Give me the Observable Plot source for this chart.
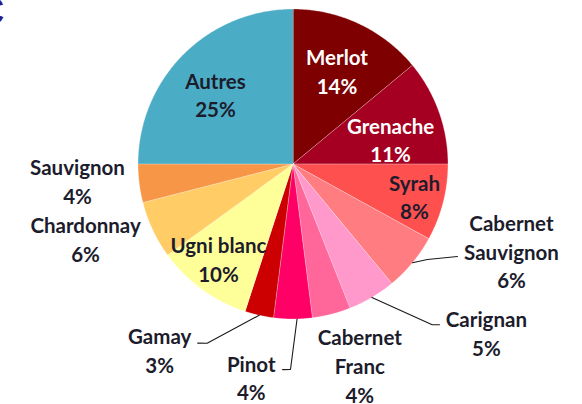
<!DOCTYPE html>
<html><head><meta charset="utf-8">
<script src="https://cdn.jsdelivr.net/npm/d3@7"></script>
<script src="https://cdn.jsdelivr.net/npm/@observablehq/plot@0.6"></script>
<style>html,body{margin:0;padding:0;background:#fff;overflow:hidden}</style>
</head><body><div id="chart"></div>
<script>
// ---- data ----
const cepages = ["Merlot","Grenache","Syrah","Cabernet Sauvignon","Carignan","Cabernet Franc","Pinot","Gamay","Ugni blanc","Chardonnay","Sauvignon","Autres"];
const parts = [14,11,8,6,5,4,4,3,10,6,4,25];
const labelLines = [["Merlot"],["Grenache"],["Syrah"],["Cabernet","Sauvignon"],["Carignan"],["Cabernet","Franc"],["Pinot"],["Gamay"],["Ugni blanc"],["Chardonnay"],["Sauvignon"],["Autres"]];
const colors = ["#7f0000","#a50021","#ff5050","#ff7c80","#ff99cc","#ff6699","#ff0066","#cc0000","#ffff99","#ffcc66","#f79646","#4bacc6"];

// ---- layout (not data) ----
const W = 582, H = 404, CX = 292.5, CY = 163.5, R = 155;
const labelRadius = [0.667,0.65,0.81,1.516,1.653,1.365,1.40,1.474,0.774,1.422,1.394,0.674];
const labelTurn = [0,5.4,0.3,-18,-18.4,-4,11.1,23.1,2.4,5.45,2.95,-2.9];
const whiteText = ["Merlot","Grenache"];
const leaderPts = { // [radius factor, turn from mid-angle in degrees]
  3: [[1.0,0],[1.064,-4.2],[1.217,-10.25]],
  4: [[1.0,0],[1.372,-10.3],[1.403,-11.74]],
  6: [[1.0,-1.5],[1.326,0.7],[1.328,2.9]],
  7: [[1.0,0],[1.282,13.0],[1.309,15.4]]
};

const arcs = d3.pie().sort(null).startAngle(0).endAngle(2*Math.PI)(parts);
const polar = (a, r) => ({x: r*Math.sin(a), y: r*Math.cos(a)});
const deg = Math.PI/180;

const slicePts = [];
arcs.forEach((a, i) => {
  slicePts.push({name: cepages[i], ...polar(0,0)});
  const n = Math.max(2, Math.ceil((a.endAngle - a.startAngle)/(0.5*deg)));
  for (let k = 0; k <= n; k++) {
    const t = a.startAngle + (a.endAngle - a.startAngle)*k/n;
    slicePts.push({name: cepages[i], ...polar(t, 1)});
  }
});

const labels = arcs.map((a, i) => {
  const mid = (a.startAngle + a.endAngle)/2 + labelTurn[i]*deg;
  return {name: cepages[i], text: labelLines[i].concat([parts[i] + "%"]).join("\n"), ...polar(mid, labelRadius[i])};
});

const leaders = [];
Object.entries(leaderPts).forEach(([i, pts]) => {
  const a = arcs[+i];
  const mid = (a.startAngle + a.endAngle)/2;
  pts.forEach(([r, t]) => leaders.push({name: cepages[+i], ...polar(mid + t*deg, r)}));
});

const font = "Lato, 'Open Sans', sans-serif";
const textOpts = {x: "x", y: "y", text: "text", fontFamily: font, fontWeight: "bold", fontSize: 20.5, lineHeight: 1.4};

const chart = Plot.plot({
  width: W, height: H,
  margin: 0,
  x: {domain: [-CX/R, (W-CX)/R], range: [0, W], axis: null},
  y: {domain: [CY/R, -(H-CY)/R], range: [0, H], axis: null},
  color: {domain: cepages, range: colors},
  marks: [
    Plot.line(slicePts, {x: "x", y: "y", z: "name", fill: "name", stroke: "#ffffff", strokeWidth: 0.5, strokeOpacity: 0.6, curve: "linear-closed"}),
    Plot.line(leaders, {x: "x", y: "y", z: "name", stroke: "#1a1a1a", strokeWidth: 1.1}),
    Plot.text(labels.filter(d => !whiteText.includes(d.name)), {...textOpts, fill: "#1c1c2c"}),
    Plot.text(labels.filter(d => whiteText.includes(d.name)), {...textOpts, fill: "#ffffff"}),
    Plot.text(["C"], {frameAnchor: "top-left", dx: -25, dy: -4, lineAnchor: "top", fontSize: 40, fontWeight: "bold", fontFamily: "Liberation Sans", fill: "#2e1a87"})
  ]
});
document.getElementById("chart").append(chart);
</script>
</body></html>
